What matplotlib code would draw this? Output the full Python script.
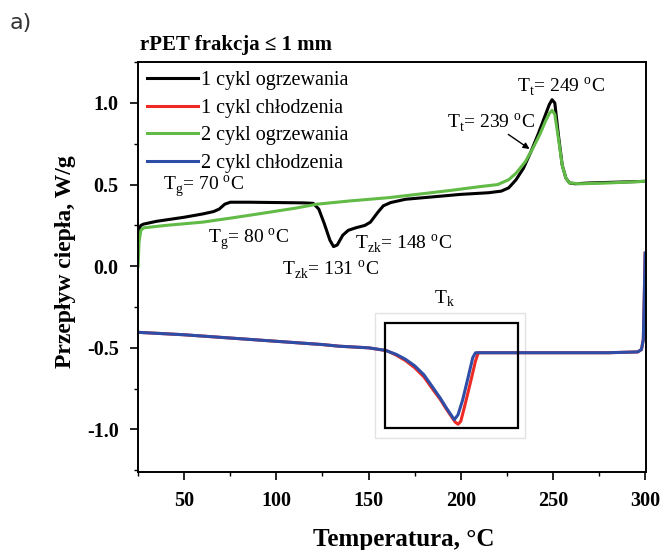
import matplotlib
matplotlib.use("Agg")
import matplotlib.pyplot as plt
from matplotlib.patches import Rectangle
from matplotlib.ticker import MultipleLocator

plt.rcParams['font.family'] = ['Liberation Serif', 'DejaVu Serif']
plt.rcParams['mathtext.fontset'] = 'custom'
plt.rcParams['mathtext.rm'] = 'Liberation Serif'
plt.rcParams['axes.unicode_minus'] = False

# ---- data ----
heat1_T = [25, 25.6, 26.5, 28, 35, 50, 60, 66, 69, 72, 75, 85, 100, 115, 120, 123, 126, 129, 131,
           133, 136, 139, 143, 148, 151, 155, 158, 162, 170, 185, 200, 215, 222, 226, 230, 234,
           238, 242, 245, 248, 249.5, 251, 253, 255, 257, 259, 262, 270, 285, 300]
heat1_Q = [0.20, 0.23, 0.25, 0.258, 0.275, 0.30, 0.32, 0.335, 0.35, 0.38, 0.392, 0.392, 0.39, 0.388,
           0.385, 0.35, 0.26, 0.16, 0.12, 0.13, 0.19, 0.22, 0.235, 0.25, 0.27, 0.33, 0.37, 0.39,
           0.41, 0.425, 0.44, 0.45, 0.46, 0.48, 0.53, 0.60, 0.70, 0.81, 0.90, 0.99, 1.02, 1.00,
           0.80, 0.62, 0.54, 0.51, 0.505, 0.51, 0.515, 0.52]

cool1_T = [25, 50, 75, 100, 125, 134, 150, 160, 165, 170, 175, 180, 185, 189, 192, 195, 197, 198.5,
           200, 202.5, 205.5, 208, 209.5, 220, 250, 280, 296, 298, 299, 299.5, 300]
cool1_Q = [-0.405, -0.42, -0.44, -0.46, -0.48, -0.49, -0.50, -0.518, -0.545, -0.578, -0.622, -0.678,
           -0.757, -0.818, -0.872, -0.922, -0.955, -0.968, -0.95, -0.84, -0.70, -0.58, -0.53, -0.53,
           -0.53, -0.53, -0.525, -0.51, -0.45, -0.2, 0.08]

heat2_T = [25, 25.5, 26.5, 28, 40, 60, 76, 90, 110, 122, 140, 161, 180, 195, 210, 220, 226, 230, 235,
           239, 243, 246, 248, 249.5, 251, 253, 255, 257, 259, 265, 280, 300]
heat2_Q = [0.00, 0.15, 0.22, 0.235, 0.25, 0.27, 0.296, 0.32, 0.355, 0.38, 0.40, 0.42, 0.445, 0.465,
           0.487, 0.50, 0.53, 0.57, 0.64, 0.72, 0.81, 0.89, 0.935, 0.955, 0.93, 0.78, 0.62, 0.54,
           0.51, 0.505, 0.51, 0.52]

cool2_T = [25, 50, 75, 100, 125, 134, 150, 159, 165, 170, 175, 180, 185, 189, 192, 195, 196.5, 198.5,
           201, 204, 206.5, 208, 220, 250, 280, 296, 298, 299, 299.5, 300]
cool2_Q = [-0.405, -0.42, -0.44, -0.46, -0.48, -0.49, -0.50, -0.515, -0.54, -0.57, -0.61, -0.665,
           -0.745, -0.81, -0.865, -0.915, -0.94, -0.91, -0.82, -0.68, -0.56, -0.53, -0.53, -0.53,
           -0.53, -0.525, -0.51, -0.45, -0.2, 0.08]

labels = ['1 cykl ogrzewania', '1 cykl chłodzenia', '2 cykl ogrzewania', '2 cykl chłodzenia']
colors = ['#000000', '#ee2a24', '#62bb46', '#2e4da7']

x_ticks = [50, 100, 150, 200, 250, 300]
y_ticks = [-1.0, -0.5, 0.0, 0.5, 1.0]

fig = plt.figure(figsize=(6.64, 5.5), dpi=100)
ax = fig.add_axes([0.208, 0.142, 0.765, 0.745])

series = [(heat1_T, heat1_Q), (cool1_T, cool1_Q), (heat2_T, heat2_Q), (cool2_T, cool2_Q)]
for (t, q), lab, c in zip(series, labels, colors):
    ax.plot(t, q, color=c, lw=2.2, label=lab, solid_joinstyle='round')

ax.set_xlim(25, 300.5)
ax.set_ylim(-1.26, 1.25)
ax.set_xticks(x_ticks)
ax.set_yticks(y_ticks)
ax.xaxis.set_minor_locator(MultipleLocator(25))
ax.yaxis.set_minor_locator(MultipleLocator(0.25))
ax.tick_params(which='major', direction='out', length=6, width=1.2, labelsize=14.5, pad=8)
ax.tick_params(which='minor', direction='out', length=3, width=1.0)
ax.set_yticklabels([f'{v:.1f}' for v in y_ticks])
for lab in ax.get_xticklabels() + ax.get_yticklabels():
    lab.set_fontweight('bold')
for s in ax.spines.values():
    s.set_linewidth(1.4)

ax.set_xlabel('Temperatura, °C', fontsize=18, fontweight='bold')
ax.xaxis.set_label_coords(0.522, -0.137)
ax.set_ylabel('Przepływ ciepła, W/g', fontsize=17, fontweight='bold')
ax.yaxis.set_label_coords(-0.122, 0.512)

leg = ax.legend(loc='upper left', frameon=False, fontsize=14.5, handlelength=2.5,
                handletextpad=0.15, labelspacing=0.42, borderaxespad=0.25, borderpad=0.2)

# inset-like boxes
ax.add_patch(Rectangle((153.4, -1.055), 81.2, 0.767, fill=False, ec='#e2e2e2', lw=1.0, zorder=1))
ax.add_patch(Rectangle((158.8, -0.994), 72.0, 0.644, fill=False, ec='black', lw=1.6, zorder=5))

fs = 14
ax.text(38.5, 0.49, r'T$_\mathregular{g}$= 70 $^\mathregular{o}$C', fontsize=fs, va='center')
ax.text(62.9, 0.166, r'T$_\mathregular{g}$= 80 $^\mathregular{o}$C', fontsize=fs, va='center')
ax.text(103, -0.02, r'T$_\mathregular{zk}$= 131 $^\mathregular{o}$C', fontsize=fs, va='center')
ax.text(142.5, 0.14, r'T$_\mathregular{zk}$= 148 $^\mathregular{o}$C', fontsize=fs, va='center')
ax.text(230.3, 1.10, r'T$_\mathregular{t}$= 249 $^\mathregular{o}$C', fontsize=fs, va='center')
ax.annotate(r'T$_\mathregular{t}$= 239 $^\mathregular{o}$C', xy=(237.3, 0.718), xytext=(192.4, 0.877),
            fontsize=fs, va='center',
            arrowprops=dict(arrowstyle='-|>', color='black', lw=1.0, mutation_scale=9,
                            shrinkA=0, shrinkB=0, patchA=None,
                            relpos=(0.7, 0.0)))
ax.text(191, -0.2, r'T$_\mathregular{k}$', fontsize=fs, ha='center', va='center')

fig.text(0.211, 0.918, 'rPET frakcja ≤ 1 mm', fontsize=15, fontweight='bold', va='center')
fig.text(0.015, 0.958, 'a)', fontsize=16, va='center', family='DejaVu Sans', color='#333333')

fig.savefig('out.png', dpi=100)
